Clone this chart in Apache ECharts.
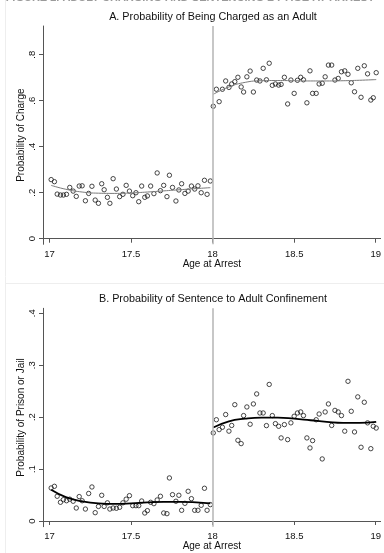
<!DOCTYPE html>
<html>
<head>
<meta charset="utf-8">
<script src="https://cdn.jsdelivr.net/npm/echarts@6/dist/echarts.min.js"></script>
<style>
  html, body { margin: 0; padding: 0; background: #fff; }
  #chart { width: 384px; height: 553px; }
</style>
</head>
<body>
<div id="chart"></div>
<script>
// Weekly age bins (years) on each side of the 18th birthday
const agesUnder = [17.01, 17.03, 17.047, 17.067, 17.085, 17.104, 17.124, 17.145, 17.164, 17.182,
  17.2, 17.22, 17.24, 17.26, 17.28, 17.3, 17.32, 17.335, 17.355, 17.37,
  17.39, 17.41, 17.43, 17.45, 17.47, 17.49, 17.51, 17.53, 17.547, 17.565,
  17.584, 17.6, 17.62, 17.64, 17.66, 17.68, 17.7, 17.72, 17.735, 17.754,
  17.775, 17.793, 17.81, 17.83, 17.85, 17.87, 17.89, 17.91, 17.93, 17.95,
  17.966, 17.986];
const agesOver = [18.004, 18.023, 18.04, 18.06, 18.08, 18.1, 18.117, 18.136, 18.155, 18.175,
  18.19, 18.21, 18.23, 18.25, 18.27, 18.29, 18.31, 18.33, 18.347, 18.366,
  18.385, 18.405, 18.42, 18.44, 18.46, 18.48, 18.5, 18.52, 18.54, 18.557,
  18.578, 18.597, 18.613, 18.635, 18.653, 18.672, 18.69, 18.71, 18.73, 18.75,
  18.77, 18.79, 18.81, 18.83, 18.85, 18.87, 18.89, 18.91, 18.93, 18.95,
  18.97, 18.985, 19.003];

// Panel A: share charged as an adult
const chargeUnder = [0.257, 0.248, 0.194, 0.19, 0.19, 0.193, 0.223, 0.207, 0.184, 0.229,
  0.23, 0.165, 0.197, 0.228, 0.168, 0.154, 0.239, 0.213, 0.18, 0.154,
  0.261, 0.216, 0.183, 0.193, 0.232, 0.207, 0.187, 0.2, 0.161, 0.229,
  0.18, 0.186, 0.229, 0.196, 0.286, 0.209, 0.232, 0.183, 0.276, 0.223,
  0.164, 0.212, 0.239, 0.197, 0.207, 0.229, 0.216, 0.23, 0.2, 0.254,
  0.193, 0.251];
const chargeOver = [0.576, 0.65, 0.596, 0.65, 0.686, 0.658, 0.673, 0.683, 0.702, 0.66,
  0.638, 0.704, 0.729, 0.638, 0.69, 0.686, 0.741, 0.691, 0.763, 0.667,
  0.673, 0.668, 0.671, 0.702, 0.586, 0.69, 0.632, 0.689, 0.702, 0.691,
  0.591, 0.73, 0.632, 0.632, 0.673, 0.676, 0.704, 0.755, 0.755, 0.69,
  0.697, 0.726, 0.73, 0.715, 0.678, 0.639, 0.741, 0.615, 0.752, 0.717,
  0.603, 0.613, 0.722];

// Panel B: share sentenced to prison or jail
const prisonUnder = [0.0636, 0.0668, 0.0476, 0.036, 0.041, 0.039, 0.042, 0.038, 0.025, 0.047,
  0.039, 0.023, 0.053, 0.0655, 0.016, 0.028, 0.0495, 0.028, 0.035, 0.023,
  0.025, 0.0245, 0.0264, 0.035, 0.042, 0.0488, 0.0295, 0.0295, 0.0295, 0.0385,
  0.0154, 0.0199, 0.036, 0.0334, 0.0405, 0.0476, 0.0154, 0.0141, 0.0829, 0.0507,
  0.038, 0.0495, 0.0206, 0.034, 0.0572, 0.043, 0.0206, 0.0206, 0.0302, 0.063,
  0.0206, 0.0315];
const prisonOver = [0.1696, 0.195, 0.176, 0.1805, 0.205, 0.173, 0.184, 0.224, 0.1554, 0.149,
  0.203, 0.2196, 0.1863, 0.2254, 0.2447, 0.208, 0.208, 0.1837, 0.263, 0.203,
  0.1875, 0.1824, 0.16, 0.1856, 0.1567, 0.189, 0.2017, 0.208, 0.21, 0.203,
  0.16, 0.1407, 0.1548, 0.195, 0.206, 0.1195, 0.21, 0.2254, 0.184, 0.213,
  0.21, 0.203, 0.173, 0.269, 0.2113, 0.1715, 0.239, 0.142, 0.2287, 0.189,
  0.1393, 0.1824, 0.179];

// Smoothed fits on each side of the cutoff
const fitAgesUnder = [17.01, 17.1, 17.2, 17.3, 17.4, 17.5, 17.6, 17.7, 17.8, 17.9, 17.986];
const fitAgesOver = [18.004, 18.1, 18.2, 18.3, 18.4, 18.5, 18.6, 18.7, 18.8, 18.9, 19.003];
const chargeFitUnder = [0.232, 0.215, 0.203, 0.198, 0.197, 0.199, 0.203, 0.208, 0.213, 0.218, 0.222];
const chargeFitOver = [0.628, 0.66, 0.68, 0.687, 0.688, 0.687, 0.686, 0.686, 0.687, 0.689, 0.692];
const prisonFitUnder = [0.06, 0.046, 0.038, 0.034, 0.033, 0.034, 0.036, 0.037, 0.037, 0.036, 0.034];
const prisonFitOver = [0.18, 0.192, 0.197, 0.199, 0.199, 0.197, 0.194, 0.191, 0.189, 0.189, 0.191];

// Axis ticks
const ageTicks = [17, 17.5, 18, 18.5, 19];
const chargeTicks = [0, 0.2, 0.4, 0.6, 0.8];
const prisonTicks = [0, 0.1, 0.2, 0.3, 0.4];

const FONT = '"Liberation Sans", Arial, sans-serif';
const zip = (xs, ys) => xs.map((x, i) => [x, ys[i]]);
const probLabel = v => (v === 0 ? '0' : String(+v.toFixed(2)).replace(/^0\./, '.'));

function xAxisFor(gridIndex) {
  return {
    type: 'value', gridIndex, min: 16.96, max: 19.03,
    name: 'Age at Arrest', nameLocation: 'middle', nameGap: 15, nameMoveOverlap: false,
    nameTextStyle: { fontFamily: FONT, fontSize: 10, color: '#111' },
    axisLine: { show: true, lineStyle: { color: '#555', width: 1 } },
    axisTick: { show: true, customValues: ageTicks, length: 4, lineStyle: { color: '#555' } },
    axisLabel: { customValues: ageTicks, fontFamily: FONT, fontSize: 9.5, color: '#111', margin: 5,
      formatter: v => String(v) },
    splitLine: { show: false }
  };
}
function yAxisFor(gridIndex, min, max, ticks, name) {
  return {
    type: 'value', gridIndex, min, max,
    name, nameLocation: 'middle', nameGap: 17, nameRotate: 90, nameMoveOverlap: false,
    nameTextStyle: { fontFamily: FONT, fontSize: 10, color: '#111' },
    axisLine: { show: true, lineStyle: { color: '#555', width: 1 } },
    axisTick: { show: true, customValues: ticks, length: 4, lineStyle: { color: '#555' } },
    axisLabel: { customValues: ticks, rotate: 90, fontFamily: FONT, fontSize: 9.5, color: '#111',
      margin: 6, formatter: probLabel },
    splitLine: { show: false }
  };
}
function dots(xi, data, withCutoff) {
  const s = {
    type: 'scatter', xAxisIndex: xi, yAxisIndex: xi, data,
    symbol: 'circle', symbolSize: 4.4,
    itemStyle: { color: 'rgba(0,0,0,0)', borderColor: '#1a1a1a', borderWidth: 1 },
    z: 3
  };
  if (withCutoff) {
    s.markLine = {
      silent: true, symbol: ['none', 'none'], label: { show: false },
      lineStyle: { color: '#b4b4b4', width: 1.5, type: 'solid' },
      data: [{ xAxis: 18 }]
    };
  }
  return s;
}
function fit(xi, data, color, width) {
  return {
    type: 'line', xAxisIndex: xi, yAxisIndex: xi, data, smooth: 0.5,
    showSymbol: false, lineStyle: { color, width }, z: 4
  };
}

const chart = echarts.init(document.getElementById('chart'), null, { renderer: 'canvas' });
chart.setOption({
  animation: false,
  backgroundColor: '#fff',
  grid: [
    { left: 43, top: 26, width: 340, height: 218.3 },
    { left: 43, top: 308.3, width: 340, height: 218.4 }
  ],
  xAxis: [xAxisFor(0), xAxisFor(1)],
  yAxis: [
    yAxisFor(0, -0.0243, 0.925, chargeTicks, 'Probability of Charge'),
    yAxisFor(1, -0.011, 0.4096, prisonTicks, 'Probability of Prison or Jail')
  ],
  series: [
    dots(0, zip(agesUnder, chargeUnder), true),
    dots(0, zip(agesOver, chargeOver), false),
    fit(0, zip(fitAgesUnder, chargeFitUnder), '#7a7a7a', 1),
    fit(0, zip(fitAgesOver, chargeFitOver), '#7a7a7a', 1),
    dots(1, zip(agesUnder, prisonUnder), true),
    dots(1, zip(agesOver, prisonOver), false),
    fit(1, zip(fitAgesUnder, prisonFitUnder), '#000', 1.8),
    fit(1, zip(fitAgesOver, prisonFitOver), '#000', 1.8)
  ],
  graphic: [
    { type: 'text', x: 190, y: -8, silent: true,
      style: { text: 'FIGURE 2. ADULT CHARGING AND SENTENCING BY AGE AT ARREST', textAlign: 'center',
        textVerticalAlign: 'top', font: 'bold 11px ' + FONT, fill: '#9a9a9a' } },
    { type: 'line', silent: true, shape: { x1: 5.5, y1: 0, x2: 5.5, y2: 553 },
      style: { stroke: '#eeeeee', lineWidth: 1 } },
    { type: 'line', silent: true, shape: { x1: 5.5, y1: 283.5, x2: 384, y2: 283.5 },
      style: { stroke: '#eeeeee', lineWidth: 1 } },
    { type: 'text', x: 213, y: 17, silent: true,
      style: { text: 'A. Probability of Being Charged as an Adult', textAlign: 'center',
        textVerticalAlign: 'middle', font: '10.8px ' + FONT, fill: '#111' } },
    { type: 'text', x: 213, y: 299, silent: true,
      style: { text: 'B. Probability of Sentence to Adult Confinement', textAlign: 'center',
        textVerticalAlign: 'middle', font: '10.8px ' + FONT, fill: '#111' } }
  ]
});
</script>
</body>
</html>
